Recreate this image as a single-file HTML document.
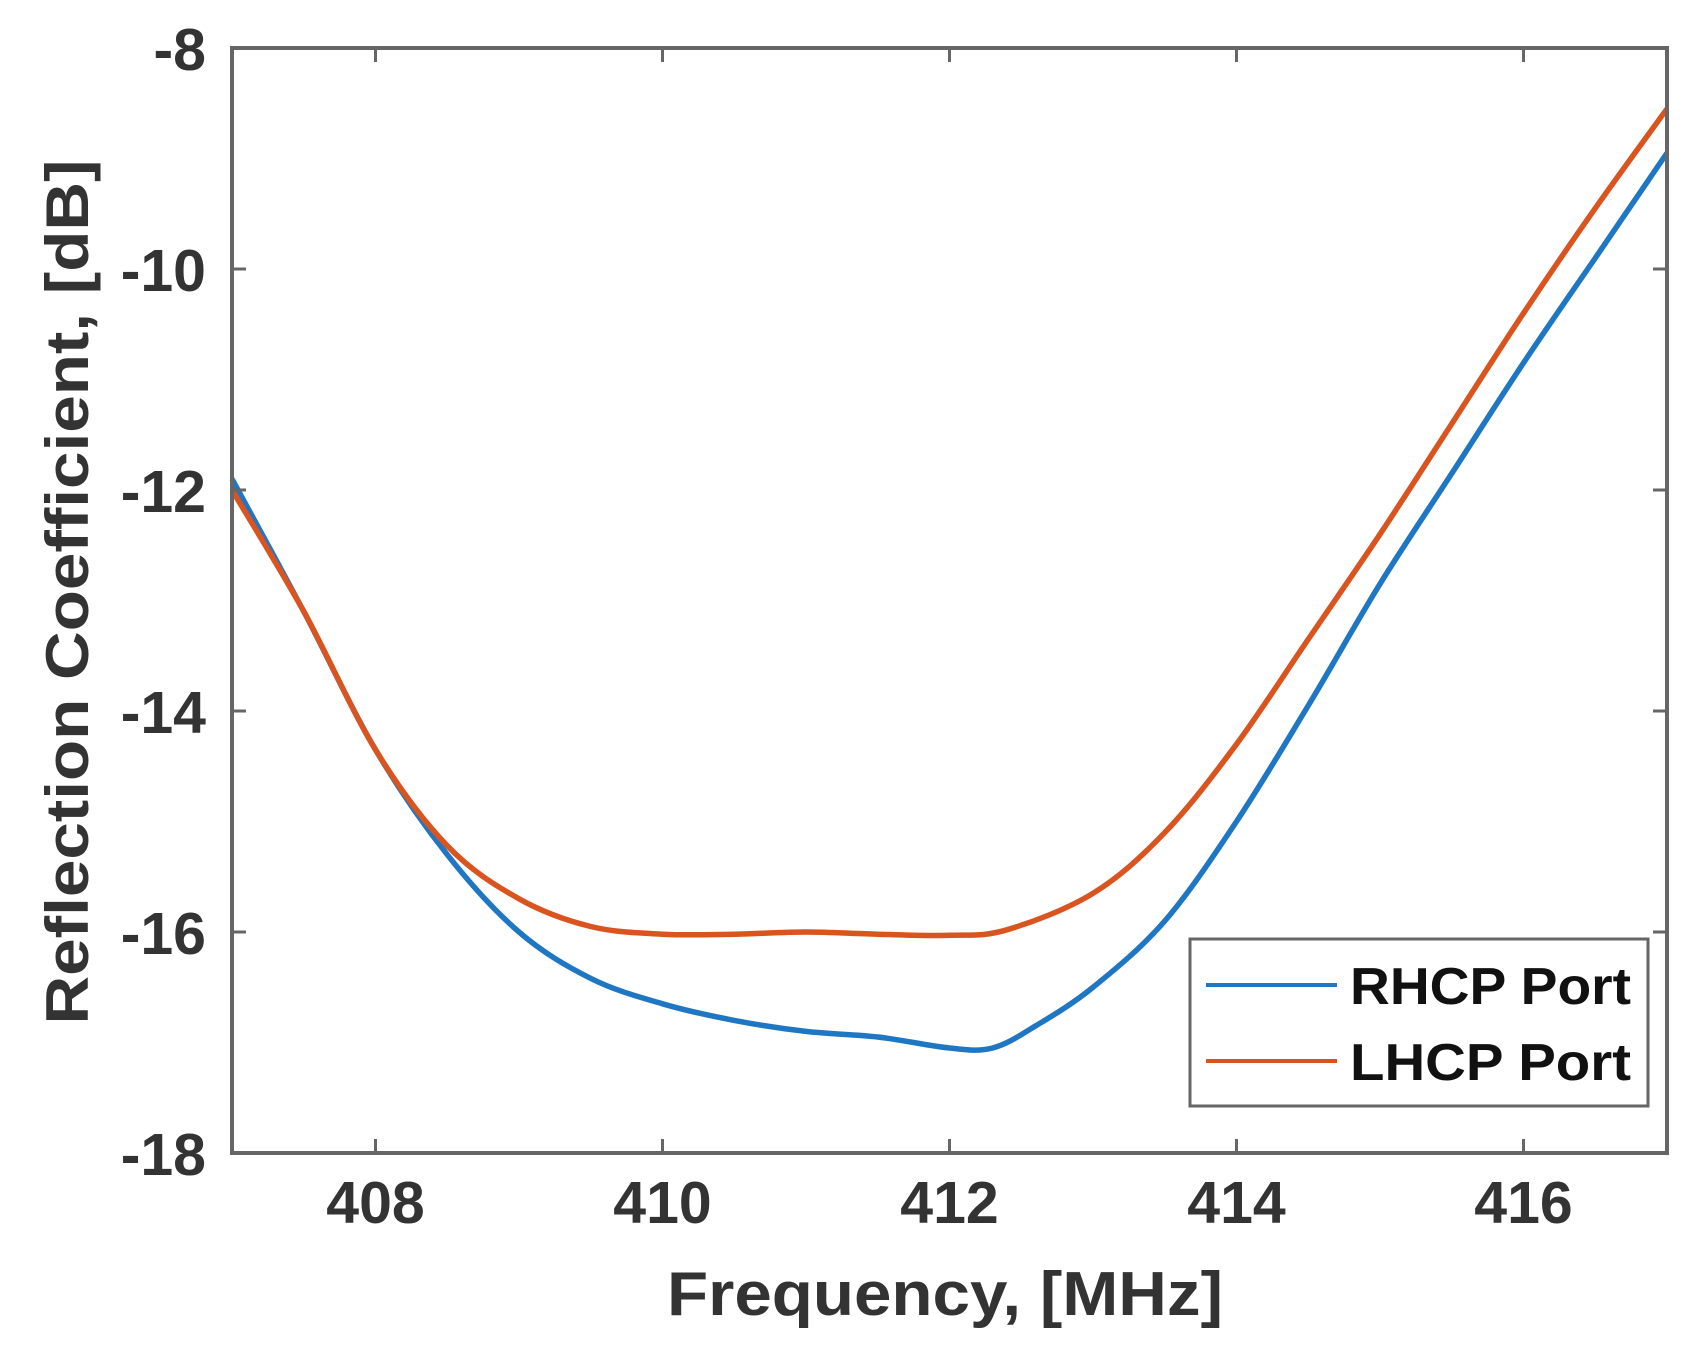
<!DOCTYPE html>
<html><head><meta charset="utf-8"><style>
html,body{margin:0;padding:0;background:#fff;}
svg{display:block;font-family:"Liberation Sans",Arial,sans-serif;font-weight:bold;}
</style></head><body>
<svg id="chart" width="1694" height="1351" viewBox="0 0 1694 1351"></svg>
<script>
const xTicks = [408, 410, 412, 414, 416];
const yTicks = [-8, -10, -12, -14, -16, -18];
const freqR = [407, 407.5, 408, 408.5, 409, 409.5, 410, 410.5, 411, 411.5, 412, 412.3, 412.6, 413, 413.5, 414, 414.5, 415, 415.5, 416, 416.5, 417];
const rhcp = [-11.9, -13.1, -14.35, -15.3, -16.0, -16.42, -16.65, -16.8, -16.9, -16.95, -17.05, -17.05, -16.85, -16.5, -15.9, -15.0, -13.95, -12.85, -11.85, -10.85, -9.9, -8.95];
const freqL = [407, 407.5, 408, 408.5, 409, 409.5, 410, 410.5, 411, 411.5, 412, 412.4, 413, 413.5, 414, 414.5, 415, 415.5, 416, 416.5, 417];
const lhcp = [-12.0, -13.1, -14.35, -15.22, -15.7, -15.95, -16.02, -16.02, -16.0, -16.02, -16.03, -15.98, -15.65, -15.1, -14.3, -13.35, -12.4, -11.4, -10.4, -9.45, -8.55];

const L=232,R=1667,T=48,B=1153, xmin=407,xmax=417,ymin=-18,ymax=-8;
const sx=v=>L+(v-xmin)/(xmax-xmin)*(R-L);
const sy=v=>B-(v-ymin)/(ymax-ymin)*(B-T);
const svg=document.getElementById('chart');
const NS='http://www.w3.org/2000/svg';
function mk(tag,attrs,parent){const e=document.createElementNS(NS,tag);for(const k in attrs)e.setAttribute(k,attrs[k]);(parent||svg).appendChild(e);return e;}

function series(xs,ys,color,name){
  const P=xs.map((x,i)=>[sx(x),sy(ys[i])]);
  let d='M'+P[0][0].toFixed(1)+','+P[0][1].toFixed(1);
  for(let i=0;i<P.length-1;i++){
    const p0=P[Math.max(i-1,0)],p1=P[i],p2=P[i+1],p3=P[Math.min(i+2,P.length-1)];
    const c1=[p1[0]+(p2[0]-p0[0])/6,p1[1]+(p2[1]-p0[1])/6];
    const c2=[p2[0]-(p3[0]-p1[0])/6,p2[1]-(p3[1]-p1[1])/6];
    d+='C'+c1.map(v=>v.toFixed(1)).join(',')+' '+c2.map(v=>v.toFixed(1)).join(',')+' '+p2[0].toFixed(1)+','+p2[1].toFixed(1);
  }
  const p=mk('path',{d:d,fill:'none',stroke:color,'stroke-width':5.5,'stroke-linejoin':'round'});
  
  
}
series(freqR,rhcp,'#1f77c4','rhcp-port-line');
series(freqL,lhcp,'#d9541e','lhcp-port-line');

const box=mk('rect',{x:L,y:T,width:R-L,height:B-T,fill:'none',stroke:'#666','stroke-width':4});



xTicks.forEach(v=>{
  const x=sx(v);
  mk('line',{x1:x,y1:B,x2:x,y2:B-14,stroke:'#666','stroke-width':3});
  mk('line',{x1:x,y1:T,x2:x,y2:T+14,stroke:'#666','stroke-width':3});
  const t=mk('text',{x:x,y:1223,'text-anchor':'middle','font-size':59,fill:'#333'});
  t.textContent=v;
  
  
});
yTicks.forEach(v=>{
  const y=sy(v);
  mk('line',{x1:L,y1:y,x2:L+14,y2:y,stroke:'#666','stroke-width':3});
  mk('line',{x1:R,y1:y,x2:R-14,y2:y,stroke:'#666','stroke-width':3});
  const t=mk('text',{x:206,y:y+22,'text-anchor':'end','font-size':59,fill:'#333'});
  t.textContent=v;
  
  
});

const xt=mk('text',{x:945,y:1315,'text-anchor':'middle','font-size':62,fill:'#333',textLength:556,lengthAdjust:'spacingAndGlyphs'});
xt.textContent='Frequency, [MHz]';


const yt=mk('text',{x:0,y:0,'text-anchor':'middle','font-size':60,fill:'#333',textLength:865,lengthAdjust:'spacingAndGlyphs',transform:'translate(88,592) rotate(-90)'});
yt.textContent='Reflection Coefficient, [dB]';



const lg=mk('g',{});


mk('rect',{x:1190,y:939,width:458,height:167,fill:'#fff',stroke:'#666','stroke-width':3},lg);
[['RHCP Port','#1f77c4',985,'legend-entry-rhcp'],['LHCP Port','#d9541e',1061,'legend-entry-lhcp']].forEach(e=>{
  const g=mk('g',{},lg);
  
  
  mk('line',{x1:1206,y1:e[2],x2:1337,y2:e[2],stroke:e[1],'stroke-width':4},g);
  const t=mk('text',{x:1350,y:e[2]+19,'font-size':52,fill:'#111',textLength:281,lengthAdjust:'spacingAndGlyphs'},g);
  t.textContent=e[0];
});
</script>
</body></html>
